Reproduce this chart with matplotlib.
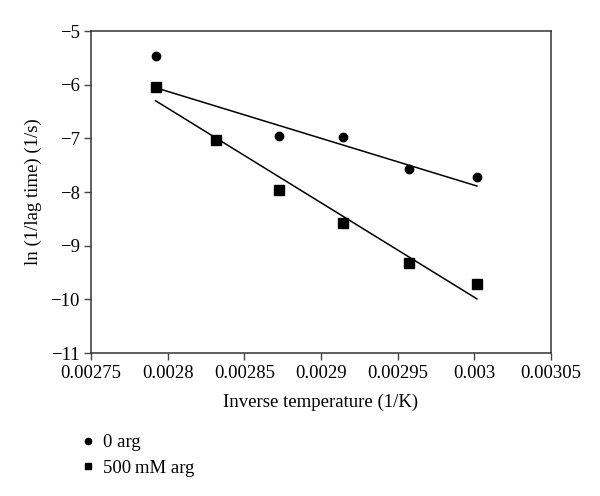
import numpy as np
import matplotlib
matplotlib.use("Agg")
import matplotlib.pyplot as plt

# inverse temperature (1/K) for 85..60 C
inv_temp = [0.0027921, 0.0028317, 0.0028723, 0.0029142, 0.0029573, 0.0030017]
ln_rate_0arg = [-5.47, -7.03, -6.96, -6.97, -7.58, -7.72]
ln_rate_500arg = [-6.04, -7.03, -7.96, -8.58, -9.33, -9.72]

x_ticks = [0.00275, 0.0028, 0.00285, 0.0029, 0.00295, 0.003, 0.00305]
x_tick_labels = ['0.00275', '0.0028', '0.00285', '0.0029', '0.00295', '0.003', '0.00305']
y_ticks = [-11, -10, -9, -8, -7, -6, -5]

plt.rcParams['font.family'] = ['Liberation Serif', 'DejaVu Serif']

fig = plt.figure(figsize=(6.0, 4.96), dpi=100)
ax = fig.add_axes([91 / 600, 1 - 353 / 496, 460 / 600, 322 / 496])

# excel-style linear trendlines over the data range
x = np.array(inv_temp)
for y in (ln_rate_0arg, ln_rate_500arg):
    k, b = np.polyfit(x, y, 1)
    ax.plot(x[[0, -1]], k * x[[0, -1]] + b, color='black', lw=1.1)

h1, = ax.plot(inv_temp, ln_rate_0arg, 'o', color='black', ms=6, ls='none', label='0 arg')
h2, = ax.plot(inv_temp, ln_rate_500arg, 's', color='black', ms=6.5, ls='none', label='500\u2009mM arg')

ax.set_xlim(0.00275, 0.00305)
ax.set_ylim(-11, -5)
ax.set_xticks(x_ticks)
ax.set_xticklabels(x_tick_labels)
ax.set_yticks(y_ticks)
ax.set_yticklabels([f'\u2212{abs(v)}' for v in y_ticks])
ax.tick_params(direction='out', length=5, width=1, labelsize=13.5, pad=3, color='#444444')
ax.tick_params(axis='x', pad=4)
for s in ax.spines.values():
    s.set_linewidth(1.1)
    s.set_color('#333333')

ax.set_xlabel('Inverse temperature (1/K)', fontsize=13.5, labelpad=8)
ax.set_ylabel('ln (1/lag time) (1/s)', fontsize=13.5, labelpad=6)

fig.legend(handles=[h1, h2], loc='upper left', bbox_to_anchor=(82 / 600, 1 - 434 / 496),
           frameon=False, fontsize=13.5, handlelength=0.6, handletextpad=0.5,
           markerscale=0.75, labelspacing=0.45, borderaxespad=0, borderpad=0)

fig.savefig('out.png', dpi=100)
